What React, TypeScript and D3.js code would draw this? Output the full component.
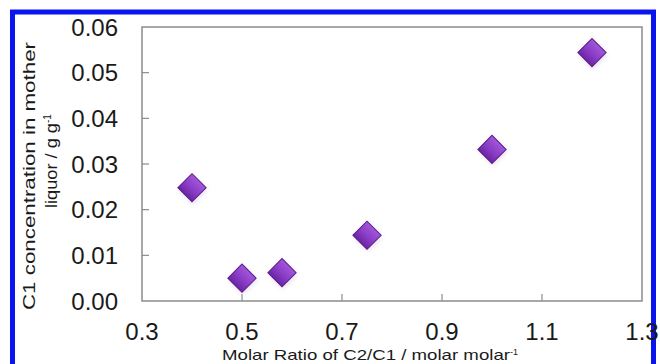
import * as d3 from "d3";
import { useEffect, useRef } from "react";

// molar ratio C2/C1 and C1 concentration in mother liquor
const ratios = [0.4, 0.5, 0.58, 0.75, 1.0, 1.2];
const concentrations = [0.0248, 0.005, 0.0062, 0.0144, 0.0332, 0.0544];
const xTicks = [0.3, 0.5, 0.7, 0.9, 1.1, 1.3];
const yTicks = [0, 0.01, 0.02, 0.03, 0.04, 0.05, 0.06];

function App() {
  const ref = useRef<SVGSVGElement>(null);
  const width = 660;
  const height = 364;
  const plot = { left: 142, top: 27, right: 642, bottom: 301 };

  useEffect(() => {
    const svg = d3.select(ref.current);
    svg.selectAll("*").remove();

    const x = d3.scaleLinear().domain([0.3, 1.3]).range([plot.left, plot.right]);
    const y = d3.scaleLinear().domain([0, 0.06]).range([plot.bottom, plot.top]);

    const defs = svg.append("defs");
    const grad = defs
      .append("linearGradient")
      .attr("id", "dia")
      .attr("x1", 0)
      .attr("y1", 0)
      .attr("x2", 0)
      .attr("y2", 1);
    grad.append("stop").attr("offset", "0%").attr("stop-color", "#a257d8");
    grad.append("stop").attr("offset", "55%").attr("stop-color", "#8a3cc6");
    grad.append("stop").attr("offset", "100%").attr("stop-color", "#6a24a2");
    const blur = defs.append("filter").attr("id", "shadow").attr("x", "-50%").attr("y", "-50%").attr("width", "200%").attr("height", "200%");
    blur.append("feGaussianBlur").attr("stdDeviation", 2.5);

    svg.append("rect").attr("width", width).attr("height", height).attr("fill", "#fff");

    // blue frame
    svg
      .append("rect")
      .attr("x", 12.5)
      .attr("y", 12)
      .attr("width", 641)
      .attr("height", 400)
      .attr("fill", "none")
      .attr("stroke", "#0a14f0")
      .attr("stroke-width", 5);

    // plot box
    svg
      .append("rect")
      .attr("x", plot.left)
      .attr("y", plot.top)
      .attr("width", plot.right - plot.left)
      .attr("height", plot.bottom - plot.top)
      .attr("fill", "none")
      .attr("stroke", "#8c8c8c")
      .attr("stroke-width", 1.5);

    // inner ticks
    svg
      .append("g")
      .selectAll("line")
      .data(yTicks.slice(1, -1))
      .join("line")
      .attr("x1", plot.left)
      .attr("x2", plot.left + 7)
      .attr("y1", (d) => y(d))
      .attr("y2", (d) => y(d))
      .attr("stroke", "#8c8c8c")
      .attr("stroke-width", 1.2);

    svg
      .append("g")
      .selectAll("line")
      .data(xTicks.slice(1, -1))
      .join("line")
      .attr("x1", (d) => x(d))
      .attr("x2", (d) => x(d))
      .attr("y1", plot.bottom)
      .attr("y2", plot.bottom - 7)
      .attr("stroke", "#8c8c8c")
      .attr("stroke-width", 1.2);

    const font = "Liberation Sans, Arial, sans-serif";

    svg
      .append("g")
      .selectAll("text")
      .data(yTicks)
      .join("text")
      .attr("x", 118)
      .attr("y", (d) => y(d))
      .attr("dy", "0.36em")
      .attr("text-anchor", "end")
      .attr("font-family", font)
      .attr("font-size", 24)
      .attr("fill", "#1a1a1a")
      .text((d) => d.toFixed(2));

    svg
      .append("g")
      .selectAll("text")
      .data(xTicks)
      .join("text")
      .attr("x", (d) => x(d))
      .attr("y", 340)
      .attr("text-anchor", "middle")
      .attr("font-family", font)
      .attr("font-size", 24)
      .attr("fill", "#1a1a1a")
      .text((d) => d.toFixed(1));

    // x title
    const xt = svg
      .append("text")
      .attr("x", 222)
      .attr("y", 360)
      .attr("font-family", font)
      .attr("font-size", 15)
      .attr("fill", "#1a1a1a");
    xt.append("tspan")
      .attr("textLength", 288)
      .attr("lengthAdjust", "spacingAndGlyphs")
      .text("Molar Ratio of C2/C1 / molar molar");
    xt.append("tspan").attr("dy", -5).attr("font-size", 9).text("-1");

    // y title, two lines
    svg
      .append("text")
      .attr("transform", `translate(35,176) rotate(-90)`)
      .attr("text-anchor", "middle")
      .attr("font-family", font)
      .attr("font-size", 16)
      .attr("fill", "#1a1a1a")
      .attr("textLength", 268)
      .attr("lengthAdjust", "spacingAndGlyphs")
      .text("C1 concentration in mother");

    const yt2 = svg
      .append("text")
      .attr("transform", `translate(57,123) rotate(-90)`)
      .attr("text-anchor", "end")
      .attr("font-family", font)
      .attr("font-size", 16)
      .attr("fill", "#1a1a1a");
    yt2.append("tspan")
      .attr("x", -85 + 0)
      .attr("textLength", 85)
      .attr("lengthAdjust", "spacingAndGlyphs")
      .attr("text-anchor", "start")
      .text("liquor / g g");
    yt2.append("tspan").attr("dy", -6).attr("font-size", 10).attr("text-anchor", "start").text("-1");

    const pts = ratios.map((r, i) => ({ x: r, y: concentrations[i] }));
    const sym = d3.symbol(d3.symbolSquare, 400);

    svg
      .append("g")
      .selectAll("path")
      .data(pts)
      .join("path")
      .attr("d", sym)
      .attr("transform", (d) => `translate(${x(d.x) + 1},${y(d.y) + 2}) rotate(45)`)
      .attr("fill", "#c9b8d8")
      .attr("opacity", 0.5)
      .attr("filter", "url(#shadow)");

    svg
      .append("g")
      .selectAll("path")
      .data(pts)
      .join("path")
      .attr("d", sym)
      .attr("transform", (d) => `translate(${x(d.x)},${y(d.y)}) rotate(45)`)
      .attr("fill", "url(#dia)")
      .attr("stroke", "#5a1e8c")
      .attr("stroke-width", 1);
  }, []);

  return (
    <svg
      ref={ref}
      width={width}
      height={height}
      style={{ position: "absolute", left: 0, top: 0 }}
    />
  );
}

export default App;
